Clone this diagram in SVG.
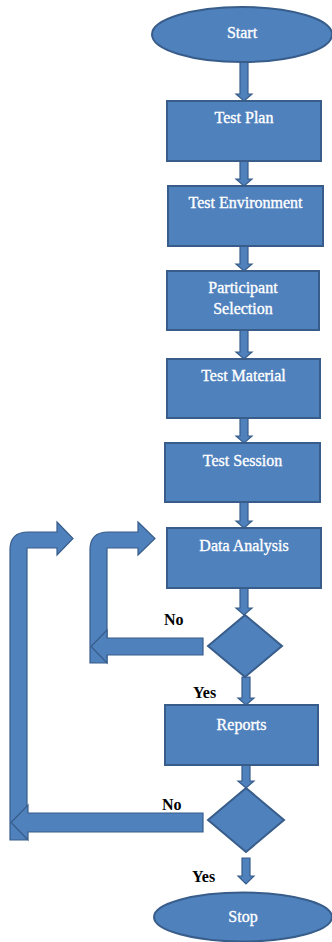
<svg xmlns="http://www.w3.org/2000/svg" width="332" height="942" viewBox="0 0 332 942">
<style>
.s{fill:#4F81BD;stroke:#385D8A;stroke-width:2}
.a{fill:#4F81BD;stroke:#385D8A;stroke-width:1.2}
.t{font-family:"Liberation Serif",serif;font-size:16px;fill:#fff;stroke:#fff;stroke-width:0.35;text-anchor:middle}
.l{font-family:"Liberation Serif",serif;font-weight:bold;font-size:16px;fill:#000}
</style>
<rect width="332" height="942" fill="#fff"/>
<g id="connectors">
<path class="a" d="M240,62 L248,62 L248,94 L252,94 L244,101 L236,94 L240,94 Z"/>
<path class="a" d="M240,161 L248,161 L248,179 L252,179 L244,186 L236,179 L240,179 Z"/>
<path class="a" d="M240,246 L248,246 L248,264 L252,264 L244,271 L236,264 L240,264 Z"/>
<path class="a" d="M240,330 L248,330 L248,352 L252,352 L244,359 L236,352 L240,352 Z"/>
<path class="a" d="M240,418 L248,418 L248,436 L252,436 L244,443 L236,436 L240,436 Z"/>
<path class="a" d="M240,502 L248,502 L248,521 L252,521 L244,528 L236,521 L240,521 Z"/>
<path class="a" d="M240,588 L248,588 L248,608 L252,608 L244,615 L236,608 L240,608 Z"/>
<path class="a" d="M242,677 L250,677 L250,698 L254,698 L246,705 L238,698 L242,698 Z"/>
<path class="a" d="M242,765 L250,765 L250,781 L254,781 L246,788 L238,781 L242,781 Z"/>
<path class="a" d="M242,858 L250,858 L250,876 L254,876 L246,884 L238,876 L242,876 Z"/>
<path class="a" d="M10,840 L10,550 Q10,532 28,532 L57,532 L57,522 L73,538.5 L57,555 L57,548 L27,548 L27,840 Z"/>
<path class="a" d="M203,813 L28,813 L28,805 L11,822.5 L28,840 L28,832 L203,832 Z"/>
<path class="a" d="M90,663 L90,550 Q90,532 108,532 L138,532 L138,522 L155,538.5 L138,555 L138,548 L107,548 L107,663 Z"/>
<path class="a" d="M203,638 L107,638 L107,630 L91,646.5 L107,663 L107,655 L203,655 Z"/>
<text class="l" x="164" y="625">No</text>
<text class="l" x="193" y="698">Yes</text>
<text class="l" x="162" y="810">No</text>
<text class="l" x="192" y="882">Yes</text>
</g>
<g id="start"><ellipse class="s" cx="242" cy="34.5" rx="90" ry="27.5"/><text class="t" x="242" y="38">Start</text></g>
<g id="testplan"><rect class="s" x="167" y="101" width="154" height="60"/><text class="t" x="244" y="123">Test Plan</text></g>
<g id="testenv"><rect class="s" x="168" y="186" width="155" height="60"/><text class="t" x="245.5" y="208">Test Environment</text></g>
<g id="participant"><rect class="s" x="167" y="271" width="152" height="59"/><text class="t" x="243" y="293">Participant</text><text class="t" x="243" y="314">Selection</text></g>
<g id="testmaterial"><rect class="s" x="167" y="359" width="153" height="59"/><text class="t" x="243.5" y="381">Test Material</text></g>
<g id="testsession"><rect class="s" x="165" y="443" width="155" height="59"/><text class="t" x="242.5" y="466">Test Session</text></g>
<g id="dataanalysis"><rect class="s" x="167" y="528" width="154" height="60"/><text class="t" x="244" y="551">Data Analysis</text></g>
<g id="decision1"><path class="s" d="M245,615 L282,646 L245,677 L208,646 Z"/></g>
<g id="reports"><rect class="s" x="165" y="705" width="153" height="60"/><text class="t" x="241.5" y="730">Reports</text></g>
<g id="decision2"><path class="s" d="M246,788 L284,820 L246,852 L208,820 Z"/></g>
<g id="stop"><ellipse class="s" cx="243" cy="917" rx="89" ry="24.5"/><text class="t" x="243" y="922">Stop</text></g>
</svg>
